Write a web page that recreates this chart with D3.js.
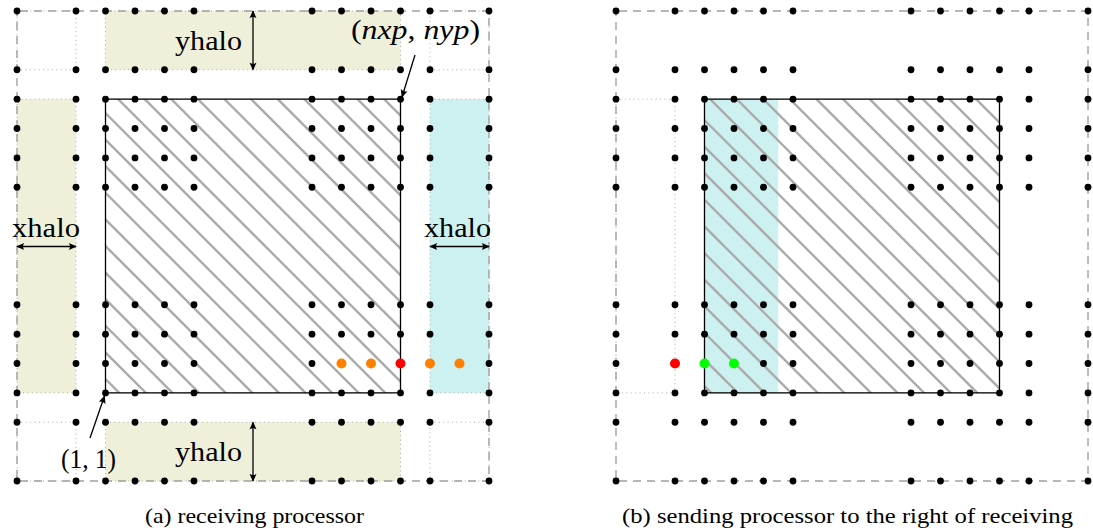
<!DOCTYPE html>
<html>
<head>
<meta charset="utf-8">
<script src="https://cdn.jsdelivr.net/npm/d3@7/dist/d3.min.js"></script>
<style>
  html, body { margin: 0; padding: 0; background: #fff; }
  svg { display: block; }
  text { font-family: "Liberation Serif", "DejaVu Serif", serif; fill: #000; }
</style>
</head>
<body>
<svg id="fig" width="1093" height="532"></svg>
<script>
// ---- grid description (index coordinates, j counted upward from the bottom) ----
const gridSize = 16;                                   // outer box spans 0..16
const dotIndices = [0, 2, 3, 4, 5, 6, 10, 11, 12, 13, 14, 16]; // rows/cols holding points
const interior = { i0: 3, i1: 13, j0: 3, j1: 13 };    // processor-owned block

// halo blocks of the receiving processor
const haloA = [
  { name: "top",    i0: 3,  i1: 13, j0: 14, j1: 16, fill: "#f0f0da" },
  { name: "bottom", i0: 3,  i1: 13, j0: 0,  j1: 2,  fill: "#f0f0da" },
  { name: "left",   i0: 0,  i1: 2,  j0: 3,  j1: 13, fill: "#f0f0da" },
  { name: "right",  i0: 14, i1: 16, j0: 3,  j1: 13, fill: "#cdf1f0" },
  { name: "tl",     i0: 0,  i1: 2,  j0: 14, j1: 16, fill: "none" },
  { name: "tr",     i0: 14, i1: 16, j0: 14, j1: 16, fill: "none" },
  { name: "bl",     i0: 0,  i1: 2,  j0: 0,  j1: 2,  fill: "none" },
  { name: "br",     i0: 14, i1: 16, j0: 0,  j1: 2,  fill: "none" }
];
// region sent by the processor to the right
const haloB = [
  { name: "send", i0: 3, i1: 5.5, j0: 3, j1: 13, fill: "#cdf1f0", dotted: false },
  { name: "left", i0: 0, i1: 2,   j0: 3, j1: 13, fill: "none",    dotted: true }
];

// highlighted points (column, row, colour)
const highlightA = [
  { i: 11, j: 4, color: "#ff8000" },
  { i: 12, j: 4, color: "#ff8000" },
  { i: 13, j: 4, color: "#ff0000" },
  { i: 14, j: 4, color: "#ff8000" },
  { i: 15, j: 4, color: "#ff8000" }
];
const highlightB = [
  { i: 2, j: 4, color: "#ff0000" },
  { i: 3, j: 4, color: "#00ff00" },
  { i: 4, j: 4, color: "#00ff00" }
];

const captions = ["(a) receiving processor", "(b) sending processor to the right of receiving"];

// ---- drawing ----
const svg = d3.select("#fig");
const defs = svg.append("defs");

function addMarker(id, orient) {
  defs.append("marker")
    .attr("id", id)
    .attr("viewBox", "0 0 10 10")
    .attr("refX", 9).attr("refY", 5)
    .attr("markerWidth", 10).attr("markerHeight", 8)
    .attr("markerUnits", "userSpaceOnUse")
    .attr("orient", orient)
    .append("path")
    .attr("d", "M0,0.6 Q3,5 0,9.4 L10,5 Z")
    .attr("fill", "#000");
}
addMarker("tip", "auto");
addMarker("tip2", "auto-start-reverse");

const yScale = d3.scaleLinear().domain([0, gridSize]).range([481, 11]);

function panel(g, x, opts) {
  const y = yScale;
  const rx = r => ({ x: x(r.i0), y: y(r.j1), w: x(r.i1) - x(r.i0), h: y(r.j0) - y(r.j1) });

  // halo fills
  opts.halos.forEach(r => {
    const b = rx(r);
    if (r.fill !== "none")
      g.append("rect").attr("x", b.x).attr("y", b.y).attr("width", b.w).attr("height", b.h)
        .attr("fill", r.fill);
  });

  // hatched interior
  const b = rx(interior);
  const clipId = "clip-" + opts.id;
  defs.append("clipPath").attr("id", clipId)
    .append("rect").attr("x", b.x).attr("y", b.y).attr("width", b.w).attr("height", b.h);
  const hatch = g.append("g").attr("clip-path", `url(#${clipId})`);
  const step = 26.6;
  const c0 = opts.hatchPhase;
  const offsets = d3.range(c0 - Math.ceil((b.h + 40) / step) * step, b.x + b.w - b.y + step, step);
  hatch.selectAll("line").data(offsets).join("line")
    .attr("x1", c => b.y - 10 + c).attr("y1", b.y - 10)
    .attr("x2", c => b.y + b.h + 10 + c).attr("y2", b.y + b.h + 10)
    .attr("stroke", "#ababab").attr("stroke-width", 2.4);

  // dotted halo borders
  opts.halos.filter(r => r.dotted !== false).forEach(r => {
    const q = rx(r);
    g.append("rect").attr("x", q.x).attr("y", q.y).attr("width", q.w).attr("height", q.h)
      .attr("fill", "none").attr("stroke", "#a8a8a8").attr("stroke-width", 1)
      .attr("stroke-dasharray", "1 3.4");
  });

  // outer dashed border
  g.append("rect")
    .attr("x", x(0)).attr("y", y(gridSize))
    .attr("width", x(gridSize) - x(0)).attr("height", y(0) - y(gridSize))
    .attr("fill", "none").attr("stroke", "#a0a0a0").attr("stroke-width", 1.4)
    .attr("stroke-dasharray", "8 6").attr("stroke-dashoffset", -3);

  // interior border
  g.append("rect").attr("x", b.x).attr("y", b.y).attr("width", b.w).attr("height", b.h)
    .attr("fill", "none").attr("stroke", "#000").attr("stroke-width", 1.3);

  // grid points
  const hl = new Map(opts.highlight.map(d => [d.i + "," + d.j, d]));
  const pts = [];
  dotIndices.forEach(j => dotIndices.forEach(i => { if (!hl.has(i + "," + j)) pts.push({ i, j }); }));
  g.append("g").selectAll("circle").data(pts).join("circle")
    .attr("cx", d => x(d.i)).attr("cy", d => y(d.j)).attr("r", 3.4).attr("fill", "#000");
  g.append("g").selectAll("circle").data(opts.highlight).join("circle")
    .attr("cx", d => x(d.i)).attr("cy", d => y(d.j)).attr("r", 5).attr("fill", d => d.color);
}

// panel (a)
const xA = d3.scaleLinear().domain([0, gridSize]).range([17, 489]);
const gA = svg.append("g");
panel(gA, xA, { id: "a", halos: haloA, highlight: highlightA, hatchPhase: 19 });

// panel (b)
const xB = d3.scaleLinear().domain([0, gridSize]).range([616, 1088]);
const gB = svg.append("g");
panel(gB, xB, { id: "b", halos: haloB, highlight: highlightB, hatchPhase: 611 });

// ---- annotations on panel (a) ----
const ann = svg.append("g");
function arrow(x1, y1, x2, y2, both) {
  ann.append("line").attr("x1", x1).attr("y1", y1).attr("x2", x2).attr("y2", y2)
    .attr("stroke", "#000").attr("stroke-width", 1.3)
    .attr("marker-end", "url(#tip)")
    .attr("marker-start", both ? "url(#tip2)" : null);
}
// yhalo (top and bottom)
arrow(253, yScale(16), 253, yScale(14), true);
arrow(253, yScale(2), 253, yScale(0), true);
// xhalo (left and right)
arrow(xA(0), 246.5, xA(2), 246.5, true);
arrow(xA(14), 246.5, xA(16), 246.5, true);
// corner pointers
arrow(415, 55, 402, 97, false);
arrow(90, 438, 104.5, 396, false);

function label(str, x, y, size, len) {
  const t = ann.append("text").attr("x", x).attr("y", y).attr("font-size", size);
  if (len) t.attr("textLength", len).attr("lengthAdjust", "spacingAndGlyphs");
  t.text(str);
  return t;
}
label("yhalo", 175, 50, 27, 67);
label("yhalo", 175, 461, 27, 67);
label("xhalo", 12, 237, 27, 68);
label("xhalo", 424, 237, 27, 67);

// math labels
function mathLabel(parts, x, y, size, len) {
  const t = ann.append("text").attr("x", x).attr("y", y).attr("font-size", size)
    .attr("textLength", len).attr("lengthAdjust", "spacingAndGlyphs");
  parts.forEach(p => t.append("tspan").attr("font-style", p.it ? "italic" : "normal").text(p.s));
}
mathLabel([{ s: "(" }, { s: "nxp", it: true }, { s: ", " }, { s: "nyp", it: true }, { s: ")" }], 351, 39, 27, 129);
mathLabel([{ s: "(1, 1)" }], 61, 468, 27, 55);

// captions
svg.append("text").attr("x", 145).attr("y", 523).attr("font-size", 21)
  .attr("textLength", 219).attr("lengthAdjust", "spacingAndGlyphs").text(captions[0]);
svg.append("text").attr("x", 622).attr("y", 523).attr("font-size", 21)
  .attr("textLength", 451).attr("lengthAdjust", "spacingAndGlyphs").text(captions[1]);
</script>
</body>
</html>
